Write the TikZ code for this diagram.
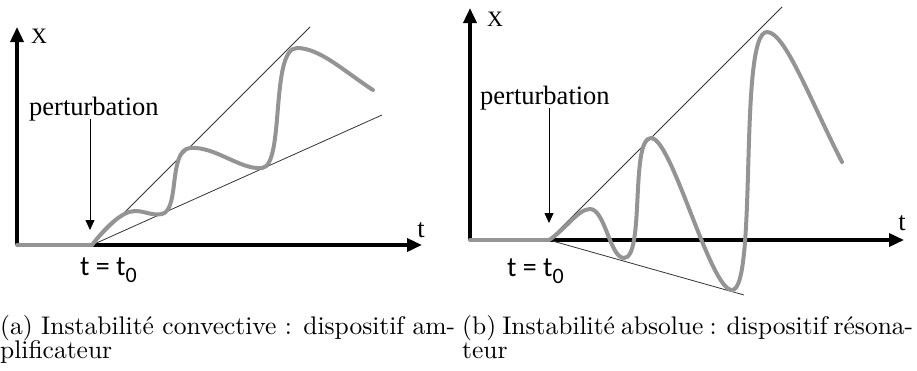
\documentclass[tikz,border=0pt]{standalone}
\usepackage{fontspec}
\newfontfamily\timesfont{Liberation Serif}
\newfontfamily\calibfont{Carlito}
\newfontfamily\capfont{lmroman10-regular}[Extension=.otf]
\usetikzlibrary{arrows.meta}

\begin{document}
\begin{tikzpicture}[
  x=1pt, y=-1pt,
  axis/.style={line width=3.5pt, -{Triangle[length=15pt, width=13pt]}},
  env/.style={line width=0.8pt, black!80},
  wave/.style={line width=4pt, black!42, line cap=round},
  pert/.style={line width=0.8pt, -{Triangle[length=10pt, width=9pt]}},
  lbl/.style={font=\timesfont\fontsize{26.5}{30}\selectfont, inner sep=0pt},
  xlbl/.style={font=\timesfont\fontsize{22}{24}\selectfont, inner sep=0pt},
  tlbl/.style={font=\calibfont\fontsize{28}{30}\selectfont, inner sep=0pt, anchor=base west},
  capt/.style={font=\capfont\fontsize{25.5}{26}\selectfont, inner sep=0pt, anchor=base west}
]
  \useasboundingbox (0,0) rectangle (917,370);

  % (a) convective instability
  \coordinate (oa) at (17,245);
  \coordinate (ya) at (17,27);
  \coordinate (xa) at (422,245);
  \coordinate (t0a) at (92,245);
  \coordinate (ua) at (310,27);
  \coordinate (la) at (382,115);
  \coordinate (pa) at (90,230);

  \draw[axis] (oa) -- (ya);
  \draw[axis] (oa) -- (xa);
  \draw[env] (t0a) -- (ua);
  \draw[env] (t0a) -- (la);
  \draw[wave] (oa) -- (t0a);
  \draw[wave] (t0a) .. controls (105,228) and (122,211) .. (135,211)
    .. controls (145,211) and (152,216) .. (162,214)
    .. controls (180,210) and (168,150) .. (190,148)
    .. controls (215,146) and (240,170) .. (262,168)
    .. controls (285,166) and (270,48) .. (297,48)
    .. controls (320,48) and (345,72) .. (373,90);

  \node[xlbl] (Xa) at (39,36) {X};
  \node[lbl] (ta) at (421,230) {t};
  \node[lbl, anchor=base west] (perta) at (29,115) {perturbation};
  \node[tlbl] (t0lbla) at (80,275) {t = t\raisebox{-7pt}{\fontsize{22}{22}\selectfont 0}};
  \draw[pert] (perta.south -| pa) ++(0,-2) -- (pa);

  % (b) absolute instability
  \coordinate (ob) at (470,240);
  \coordinate (yb) at (470,8);
  \coordinate (xb) at (904,240);
  \coordinate (t0b) at (549,240);
  \coordinate (ub) at (782,7);
  \coordinate (lb) at (744,295);
  \coordinate (pb) at (549,223);

  \draw[axis] (ob) -- (yb);
  \draw[axis] (ob) -- (xb);
  \draw[env] (t0b) -- (ub);
  \draw[env] (t0b) -- (lb);
  \draw[wave] (ob) -- (t0b);
  \draw[wave] (t0b) .. controls (565,230) and (578,209) .. (590,209)
    .. controls (605,209) and (610,258) .. (624,258)
    .. controls (645,258) and (630,138) .. (651,138)
    .. controls (672,138) and (710,290) .. (732,290)
    .. controls (758,290) and (738,32) .. (767,32)
    .. controls (785,32) and (810,100) .. (842,162);

  \node[xlbl] (Xb) at (495,19) {X};
  \node[lbl] (tb) at (902,223) {t};
  \node[lbl, anchor=base west] (pertb) at (480,104) {perturbation};
  \node[tlbl] (t0lblb) at (507,276) {t = t\raisebox{-7pt}{\fontsize{22}{22}\selectfont 0}};
  \draw[pert] (pertb.south -| pb) ++(0,-2) -- (pb);

  % captions
  \node[capt] (capa1) at (0,334) {\makebox[455pt][s]{(a) Instabilité convective : dispositif am-}};
  \node[capt] (capa2) at (0,358) {plificateur};
  \node[capt] (capb1) at (462,334) {\makebox[451pt][s]{(b) Instabilité absolue : dispositif résona-}};
  \node[capt] (capb2) at (462,358) {teur};
\end{tikzpicture}
\end{document}
